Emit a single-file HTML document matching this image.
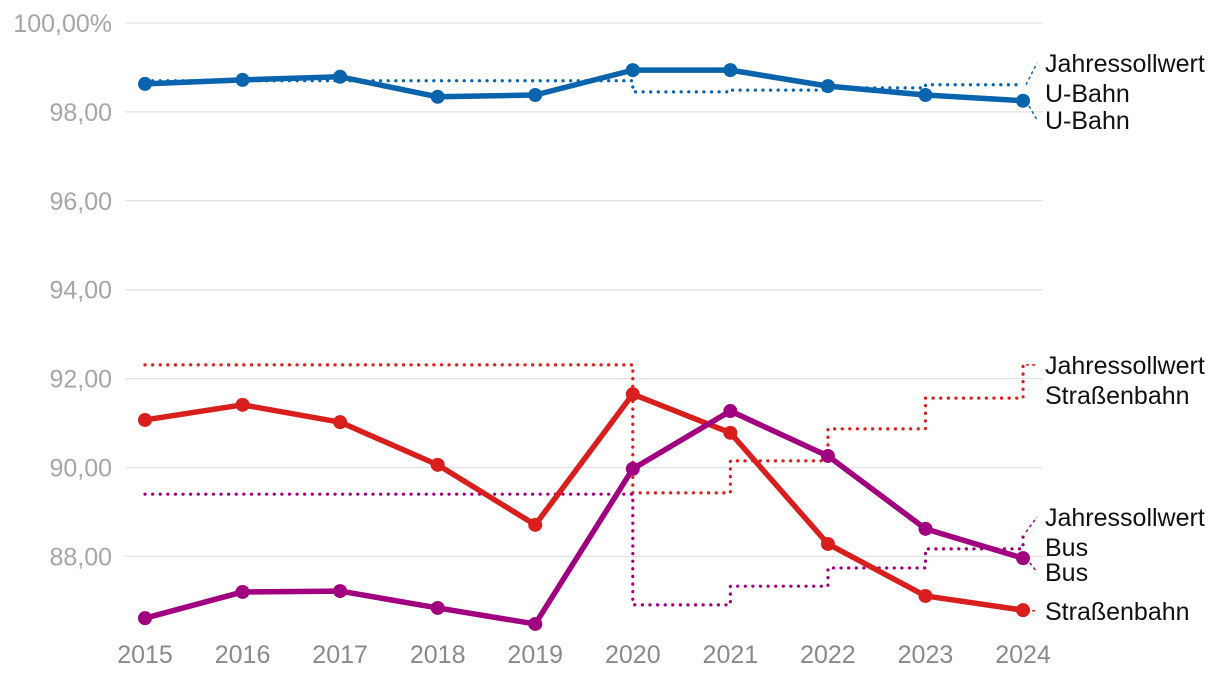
<!DOCTYPE html>
<html><head><meta charset="utf-8"><style>
body{margin:0;background:#fff}
svg{display:block;font-family:"Liberation Sans",sans-serif}
</style></head><body>
<svg id="chart" width="1220" height="676" viewBox="0 0 1220 676" xmlns="http://www.w3.org/2000/svg">
<g id="grid"></g>
<g id="marks"></g>
<g id="labels"></g>
</svg>
<script>
const years=[2015,2016,2017,2018,2019,2020,2021,2022,2023,2024];
const yTicks=[88,90,92,94,96,98,100];
const yTickLabels=["88,00","90,00","92,00","94,00","96,00","98,00","100,00%"];
const ubahn=[98.63,98.72,98.79,98.34,98.38,98.94,98.94,98.58,98.38,98.25];
const tram=[91.07,91.41,91.02,90.06,88.71,91.65,90.78,88.28,87.11,86.79];
const bus=[86.61,87.20,87.22,86.84,86.48,89.97,91.27,90.26,88.62,87.96];
const sollUbahn=[98.70,98.70,98.70,98.70,98.70,98.45,98.49,98.54,98.61,98.61];
const sollTram=[92.31,92.31,92.31,92.31,92.31,89.43,90.15,90.87,91.56,92.31];
const sollBus=[89.40,89.40,89.40,89.40,89.40,86.91,87.33,87.74,88.17,88.55];
const NS="http://www.w3.org/2000/svg";
const x=yr=>145+(yr-2015)*97.56;
const y=v=>23+(100-v)*44.45;
function el(tag,attrs,parent){const e=document.createElementNS(NS,tag);for(const k in attrs)e.setAttribute(k,attrs[k]);parent.appendChild(e);return e;}
const grid=document.getElementById('grid'),marks=document.getElementById('marks'),labels=document.getElementById('labels');
yTicks.forEach((t,i)=>{
  const l=el('line',{x1:125,x2:1043,y1:y(t),y2:y(t),stroke:'#e3e3e3','stroke-width':1.3},grid);
  
  
  const tx=el('text',{x:112,y:y(t)+9,'text-anchor':'end','font-size':25,fill:'#a6a6a6'},grid);
  tx.textContent=yTickLabels[i];
  
  
});
years.forEach(yr=>{
  const tx=el('text',{x:x(yr),y:663,'text-anchor':'middle','font-size':25,fill:'#8a8a8a'},grid);
  tx.textContent=yr;
  
  
});
function stepLine(vals,color,name){
  let d=`M${x(years[0])},${y(vals[0])}`;
  for(let i=1;i<vals.length;i++){d+=` L${x(years[i])},${y(vals[i-1])} L${x(years[i])},${y(vals[i])}`;}
  const p=el('path',{d,fill:'none',stroke:color,'stroke-width':3.2,'stroke-dasharray':'0.1 7.5','stroke-linecap':'round'},marks);
  
  
}
function line(vals,color,name){
  const d=vals.map((v,i)=>(i?'L':'M')+x(years[i])+','+y(v)).join(' ');
  const p=el('path',{d,fill:'none',stroke:color,'stroke-width':5.5,'stroke-linejoin':'round'},marks);
  
  
  vals.forEach((v,i)=>{
    const c=el('circle',{cx:x(years[i]),cy:y(v),r:7,fill:color},marks);
    
    
  });
}
const blue='#0a64ad',red='#d91e1e',purple='#a0007f';
stepLine(sollUbahn,blue,'target-ubahn-line');
stepLine(sollTram,red,'target-tram-line');
stepLine(sollBus,purple,'target-bus-line');
line(ubahn,blue,'ubahn');
line(tram,red,'tram');
line(bus,purple,'bus');
function label(lines,ly,color,fromV,name){
  const x0=x(2024),tx0=1045;
  const l=el('line',{x1:x0+3,y1:y(fromV),x2:tx0-8,y2:ly,stroke:color,'stroke-width':1.5,'stroke-dasharray':'3 3'},labels);
  
  
  lines.forEach((s,i)=>{
    const t=el('text',{x:tx0,y:ly+9+i*30,'font-size':25,fill:'#111'},labels);
    t.textContent=s;
    
    
  });
}
label(['Jahressollwert','U-Bahn'],63,blue,sollUbahn[9],'target-ubahn');
label(['U-Bahn'],120,blue,ubahn[9],'ubahn');
label(['Jahressollwert','Straßenbahn'],365,red,sollTram[9],'target-tram');
label(['Jahressollwert','Bus'],517,purple,sollBus[9],'target-bus');
label(['Bus'],572,purple,bus[9],'bus');
label(['Straßenbahn'],611,red,tram[9],'tram');
</script>
</body></html>
